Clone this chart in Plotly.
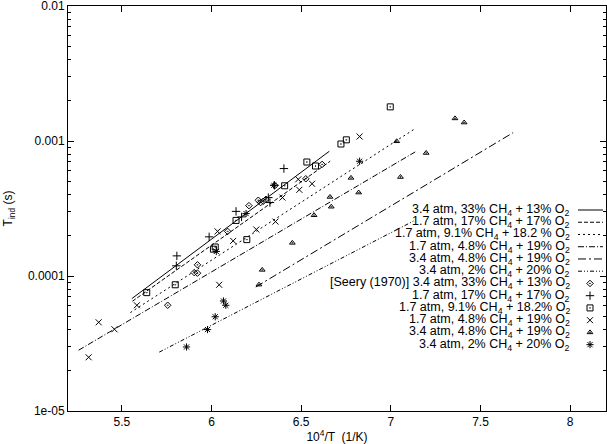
import plotly.graph_objects as go

# measured induction times, tau_ind (s) vs 10^4/T (1/K)
diamond_x = [5.756, 5.904, 5.922, 5.922, 6.090, 6.209, 6.261, 6.274, 6.289, 6.304, 6.354, 6.526, 6.617]
diamond_y = [6.07e-5, 1.06e-4, 1.05e-4, 1.21e-4, 2.14e-4, 3.32e-4, 3.64e-4, 3.50e-4, 3.58e-4, 3.70e-4, 4.68e-4, 5.25e-4, 6.71e-4]

plus_x = [5.807, 5.804, 5.987, 6.137, 6.168, 6.317, 6.326, 6.351, 6.404]
plus_y = [1.41e-4, 1.19e-4, 1.95e-4, 3.01e-4, 2.74e-4, 3.81e-4, 3.50e-4, 4.70e-4, 6.25e-4]

square_x = [5.639, 5.798, 6.011, 6.021, 6.137, 6.197, 6.408, 6.532, 6.580, 6.722, 6.752, 6.997]
square_y = [7.53e-5, 8.61e-5, 1.58e-4, 1.64e-4, 2.58e-4, 1.86e-4, 4.66e-4, 6.99e-4, 6.53e-4, 9.50e-4, 1.02e-3, 1.79e-3]

cross_x = [5.315, 5.371, 5.459, 5.584, 6.034, 6.043, 6.121, 6.250, 6.357, 6.396, 6.490, 6.561, 6.484, 6.826]
cross_y = [2.50e-5, 4.54e-5, 4.03e-5, 6.07e-5, 2.14e-4, 8.61e-5, 1.82e-4, 2.21e-4, 2.53e-4, 3.81e-4, 4.35e-4, 4.82e-4, 5.20e-4, 1.08e-3]

tri_x = [6.265, 6.283, 6.451, 6.572, 6.661, 6.668, 6.778, 6.821, 7.033, 7.054, 7.197, 7.358, 7.409]
tri_y = [8.63e-5, 1.11e-4, 1.76e-4, 2.82e-4, 3.85e-4, 3.26e-4, 5.33e-4, 4.15e-4, 9.95e-4, 5.41e-4, 8.15e-4, 1.47e-3, 1.37e-3]

star_x = [5.861, 5.978, 6.021, 6.067, 6.080, 6.027, 6.193, 6.348, 6.826]
star_y = [2.98e-5, 4.01e-5, 4.99e-5, 6.53e-5, 6.07e-5, 1.52e-4, 2.90e-4, 4.70e-4, 7.08e-4]

# model lines (end points)
fit33_x = [5.556, 6.657]
fit33_y = [6.80e-5, 8.39e-4]
fit17_x = [5.559, 6.662]
fit17_y = [6.50e-5, 7.08e-4]
fit91_x = [5.548, 7.136]
fit91_y = [5.36e-5, 1.236e-3]
fit48a_x = [5.259, 7.136]
fit48a_y = [2.82e-5, 8.30e-4]
fit48b_x = [6.247, 7.682]
fit48b_y = [8.29e-5, 1.153e-3]
fit2_x = [5.709, 7.136]
fit2_y = [2.73e-5, 2.59e-4]

mix = ["3.4 atm, 33% CH<sub>4</sub> + 13% O<sub>2</sub>",
       "1.7 atm, 17% CH<sub>4</sub> + 17% O<sub>2</sub>",
       "1.7 atm, 9.1% CH<sub>4</sub> + 18.2 % O<sub>2</sub>",
       "1.7 atm, 4.8% CH<sub>4</sub> + 19% O<sub>2</sub>",
       "3.4 atm, 4.8% CH<sub>4</sub> + 19% O<sub>2</sub>",
       "3.4 atm, 2% CH<sub>4</sub> + 20% O<sub>2</sub>"]
mix_pts = ["[Seery (1970)] 3.4 atm, 33% CH<sub>4</sub> + 13% O<sub>2</sub>",
           "1.7 atm, 17% CH<sub>4</sub> + 17% O<sub>2</sub>",
           "1.7 atm, 9.1% CH<sub>4</sub> + 18.2% O<sub>2</sub>",
           "1.7 atm, 4.8% CH<sub>4</sub> + 19% O<sub>2</sub>",
           "3.4 atm, 4.8% CH<sub>4</sub> + 19% O<sub>2</sub>",
           "3.4 atm, 2% CH<sub>4</sub> + 20% O<sub>2</sub>"]

W, H = 607, 444
L, R, T, B = 68, 1, 6, 33
pw, ph = W - L - R, H - T - B
FONT = dict(family="Liberation Sans", size=12, color="black")
KEYFONT = dict(family="Liberation Sans", size=12.5, color="black")

fits = [(fit33_x, fit33_y), (fit17_x, fit17_y), (fit91_x, fit91_y),
        (fit48a_x, fit48a_y), (fit48b_x, fit48b_y), (fit2_x, fit2_y)]
dashes = ["solid", "4px,2px", "2px,3px", "6px,2px,1px,2px",
          "8px,3px,2px,3px", "4px,2px,1px,2px,1px,2px"]
pts = [(diamond_x, diamond_y), (plus_x, plus_y), (square_x, square_y),
       (cross_x, cross_y), (tri_x, tri_y), (star_x, star_y)]
symbols = ["diamond-open-dot", "cross-thin-open", "square-open-dot",
           "x-thin-open", "triangle-up-open-dot", "asterisk-open"]
sizes = [5, 6, 6, 6, 5, 6]

fig = go.Figure()
for (fx, fy), d in zip(fits, dashes):
    fig.add_trace(go.Scatter(x=fx, y=fy, mode="lines",
                             line=dict(color="black", width=1, dash=d)))
for (px, py), s, sz in zip(pts, symbols, sizes):
    fig.add_trace(go.Scatter(x=px, y=py, mode="markers",
                             marker=dict(symbol=s, size=sz, color="black",
                                         line=dict(color="black", width=1))))

# gnuplot style key: text right aligned, sample on the right
row0, rowh = 210, 12.24
tx = (572 - L) / pw
s0, s1 = (578 - L) / pw, (603 - L) / pw
mx = (590 - L) / pw
for i, name in enumerate(mix + mix_pts):
    yp = (H - B - (row0 + rowh * i)) / ph
    fig.add_annotation(x=tx, y=yp, xref="paper", yref="paper", text=name,
                       showarrow=False, xanchor="right", yanchor="middle", font=KEYFONT)
    if i < 6:
        fig.add_shape(type="line", xref="paper", yref="paper", x0=s0, x1=s1, y0=yp, y1=yp,
                      line=dict(color="black", width=1, dash=dashes[i]))
    else:
        fig.add_trace(go.Scatter(x=[mx], y=[yp], xaxis="x2", yaxis="y2", mode="markers",
                                 marker=dict(symbol=symbols[i - 6], size=sizes[i - 6], color="black",
                                             line=dict(color="black", width=1))))

minor_vals = [k * 10 ** e for e in range(-5, -2) for k in range(2, 10)]

fig.update_layout(
    width=W, height=H, margin=dict(l=L, r=R, t=T, b=B),
    paper_bgcolor="white", plot_bgcolor="white", showlegend=False,
    font=FONT,
    xaxis=dict(range=[5.2, 8.2], tickvals=[5.5, 6, 6.5, 7, 7.5, 8],
               ticktext=["5.5", "6", "6.5", "7", "7.5", "8"],
               ticks="inside", ticklen=6, tickcolor="black", showgrid=False, zeroline=False,
               showline=True, linecolor="black", linewidth=1, mirror="ticks",
               title=dict(text="10<sup>4</sup>/T  (1/K)", standoff=0, font=FONT),
               automargin=False),
    yaxis=dict(type="log", range=[-5, -2], tickvals=[1e-5, 1e-4, 1e-3, 1e-2],
               ticktext=["1e-05", "0.0001", "0.001", "0.01"],
               ticks="inside", ticklen=6, tickcolor="black", showgrid=False, zeroline=False,
               showline=True, linecolor="black", linewidth=1, mirror="ticks",
               ticklabeloverflow="allow",
               minor=dict(tickvals=minor_vals, ticks="inside", ticklen=3, tickcolor="black", showgrid=False),
               title=dict(text="T<sub>ind</sub> (s)", standoff=12, font=FONT),
               automargin=False),
    xaxis2=dict(overlaying="x", range=[0, 1], visible=False),
    yaxis2=dict(overlaying="y", range=[0, 1], visible=False),
)

fig.write_html("out.html", config={"displayModeBar": False},
               post_script="document.body.style.margin='0px';")
